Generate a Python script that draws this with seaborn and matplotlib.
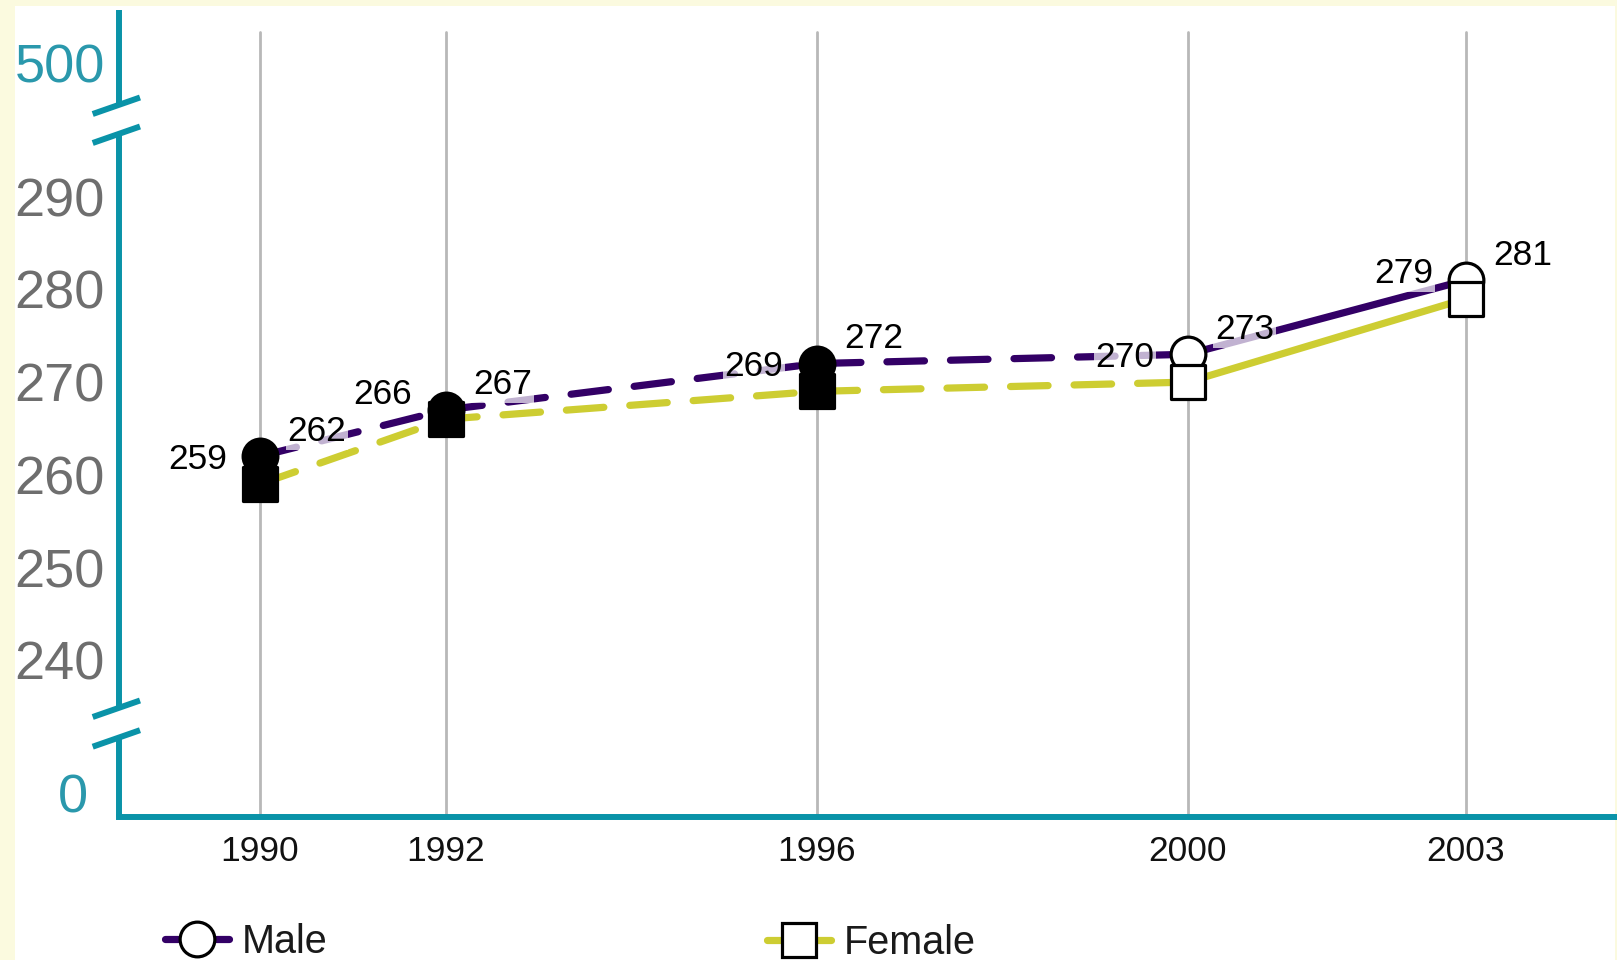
import numpy as np
import pandas as pd
import matplotlib
matplotlib.use("Agg")
import matplotlib.pyplot as plt
from matplotlib.lines import Line2D
from matplotlib.patches import Rectangle
import seaborn as sns

# ---- data -------------------------------------------------------------
years = [1990, 1992, 1996, 2000, 2003]
year_labels = ["1990", "1992", "1996", "2000", "2003"]
male_scores = [262, 267, 272, 273, 281]
female_scores = [259, 266, 269, 270, 279]
y_ticks = [0, 240, 250, 260, 270, 280, 290, 500]
# from this year on the results use the newer format (solid line, open marker)
format_change_year = 2000

# ---- style ------------------------------------------------------------
PURPLE = "#330066"
YELLOW = "#CDCD32"
TEAL = "#0A93A8"
TEAL_TEXT = "#2A98AC"
GRID = "#B8B8B8"
GRAY_TEXT = "#6E6E6E"

sns.set_style("white")
plt.rcParams["font.family"] = ["Liberation Sans", "DejaVu Sans"]

W_PX, H_PX = 1617, 960
fig = plt.figure(figsize=(W_PX / 100, H_PX / 100), dpi=100)
fig.patch.set_facecolor("#FBFADF")
fig.add_artist(Rectangle((15 / W_PX, 0), 1600 / W_PX, 954 / H_PX,
                         transform=fig.transFigure, facecolor="white",
                         edgecolor="none", zorder=-10))

AX_L, AX_B, AX_W, AX_H = 118.5, 143.0, 1496.5, 807.0
ax = fig.add_axes([AX_L / W_PX, AX_B / H_PX, AX_W / W_PX, AX_H / H_PX])
ax.set_facecolor("none")

df = pd.DataFrame({"year": years, "Male": male_scores, "Female": female_scores})
dashed_part = df[df["year"] <= format_change_year]
solid_part = df[df["year"] >= format_change_year]
filled_part = df[df["year"] < format_change_year]
open_part = df[df["year"] >= format_change_year]

# ---- lines ------------------------------------------------------------
LW = 5.2
for name, color in [("Female", YELLOW), ("Male", PURPLE)]:
    sns.lineplot(data=dashed_part, x="year", y=name, color=color, linewidth=LW,
                 linestyle=(0, (5.2, 3.6)), dash_capstyle="round",
                 errorbar=None, ax=ax, zorder=2)
    sns.lineplot(data=solid_part, x="year", y=name, color=color, linewidth=LW,
                 solid_capstyle="butt", errorbar=None, ax=ax, zorder=2)

# ---- markers ----------------------------------------------------------
MS = 25
for part, face in [(filled_part, "black"), (open_part, "white")]:
    sns.scatterplot(data=part, x="year", y="Male", marker="o", s=MS ** 2,
                    color=face, edgecolor="black", linewidth=2.3,
                    ax=ax, zorder=3, legend=False)
    sns.scatterplot(data=part, x="year", y="Female", marker="s", s=MS ** 2,
                    color=face, edgecolor="black", linewidth=2.3,
                    ax=ax, zorder=4, legend=False)

# ---- value labels -----------------------------------------------------
label_box = dict(boxstyle="square,pad=0.05", facecolor="white",
                 edgecolor="none", alpha=0.7)
for yr, m, f in zip(years, male_scores, female_scores):
    ax.annotate(str(f), xy=(yr, f), xytext=(-45, 20.5), textcoords="offset points",
                ha="center", va="center_baseline", fontsize=25.5, color="black",
                bbox=label_box, zorder=5)
    ax.annotate(str(m), xy=(yr, m), xytext=(41, 20.5), textcoords="offset points",
                ha="center", va="center_baseline", fontsize=25.5, color="black",
                bbox=label_box, zorder=5)

# ---- broken y scale: compressed around 0 and 500 ------------------------
scale_vals = [-1000.0, 0.0, 240.0, 290.0, 500.0, 1500.0]
scale_pos = [-976.3, 23.7, 156.8, 620.3, 753.7, 1753.7]


def fwd(v):
    return np.interp(v, scale_vals, scale_pos)


def inv(p):
    return np.interp(p, scale_pos, scale_vals)


ax.set_yscale("function", functions=(fwd, inv))
ax.set_ylim(-23.7, 553.3)
ax.set_xlim(1988.475, 2004.606)

ax.set_xlabel("")
ax.set_ylabel("")
ax.set_xticks(years, labels=year_labels)
ax.set_yticks(y_ticks, labels=[str(t) for t in y_ticks])
ax.minorticks_off()
ax.tick_params(axis="x", length=0, pad=13, labelsize=25.5, labelcolor="#111111")
ax.tick_params(axis="y", length=0, pad=9.7, labelsize=39, labelcolor=GRAY_TEXT)
for lbl, t in zip(ax.get_yticklabels(), y_ticks):
    if t in (0, 500):
        lbl.set_color(TEAL_TEXT)
ax.yaxis.get_major_ticks()[0].set_pad(22)

# vertical grid lines at each assessment year
for yr in years:
    ax.axvline(yr, ymin=0, ymax=785 / AX_H, color=GRID, linewidth=2, zorder=1)

# ---- axes lines with break marks ------------------------------------------
for side in ("top", "right", "left"):
    ax.spines[side].set_visible(False)
ax.spines["bottom"].set_color(TEAL)
ax.spines["bottom"].set_linewidth(4.3)

SPINE_LW = 4.3
for v0, v1 in [(0, 79.3), (109.0, 683.0), (712.0, 807.0)]:
    ax.add_line(Line2D([0, 0], [v0 / AX_H, v1 / AX_H], transform=ax.transAxes,
                       color=TEAL, linewidth=SPINE_LW, solid_capstyle="butt",
                       clip_on=False))
for vc in (79.3, 109.0, 683.0, 712.0):
    ax.add_line(Line2D([-25.8 / AX_W, 21.5 / AX_W],
                       [(vc - 9.0) / AX_H, (vc + 7.5) / AX_H],
                       transform=ax.transAxes, color=TEAL, linewidth=SPINE_LW,
                       solid_capstyle="butt", clip_on=False))

# ---- legend -----------------------------------------------------------
male_handle = Line2D([], [], color=PURPLE, linewidth=LW, marker="o", markersize=MS,
                     markerfacecolor="white", markeredgecolor="black",
                     markeredgewidth=2.3)
female_handle = Line2D([], [], color=YELLOW, linewidth=LW, marker="s", markersize=MS,
                       markerfacecolor="white", markeredgecolor="black",
                       markeredgewidth=2.3)
legend_kw = dict(loc="center left", frameon=False, fontsize=28.5, handlelength=1.62,
                 handletextpad=0.31, borderpad=0, borderaxespad=0,
                 labelcolor="#1A1A1A")
fig.legend(handles=[male_handle], labels=["Male"],
           bbox_to_anchor=(165 / W_PX, 1 - 942 / H_PX), **legend_kw)
fig.legend(handles=[female_handle], labels=["Female"],
           bbox_to_anchor=(767 / W_PX, 1 - 943 / H_PX), **legend_kw)

fig.savefig("out.png", dpi=100, facecolor=fig.get_facecolor())
